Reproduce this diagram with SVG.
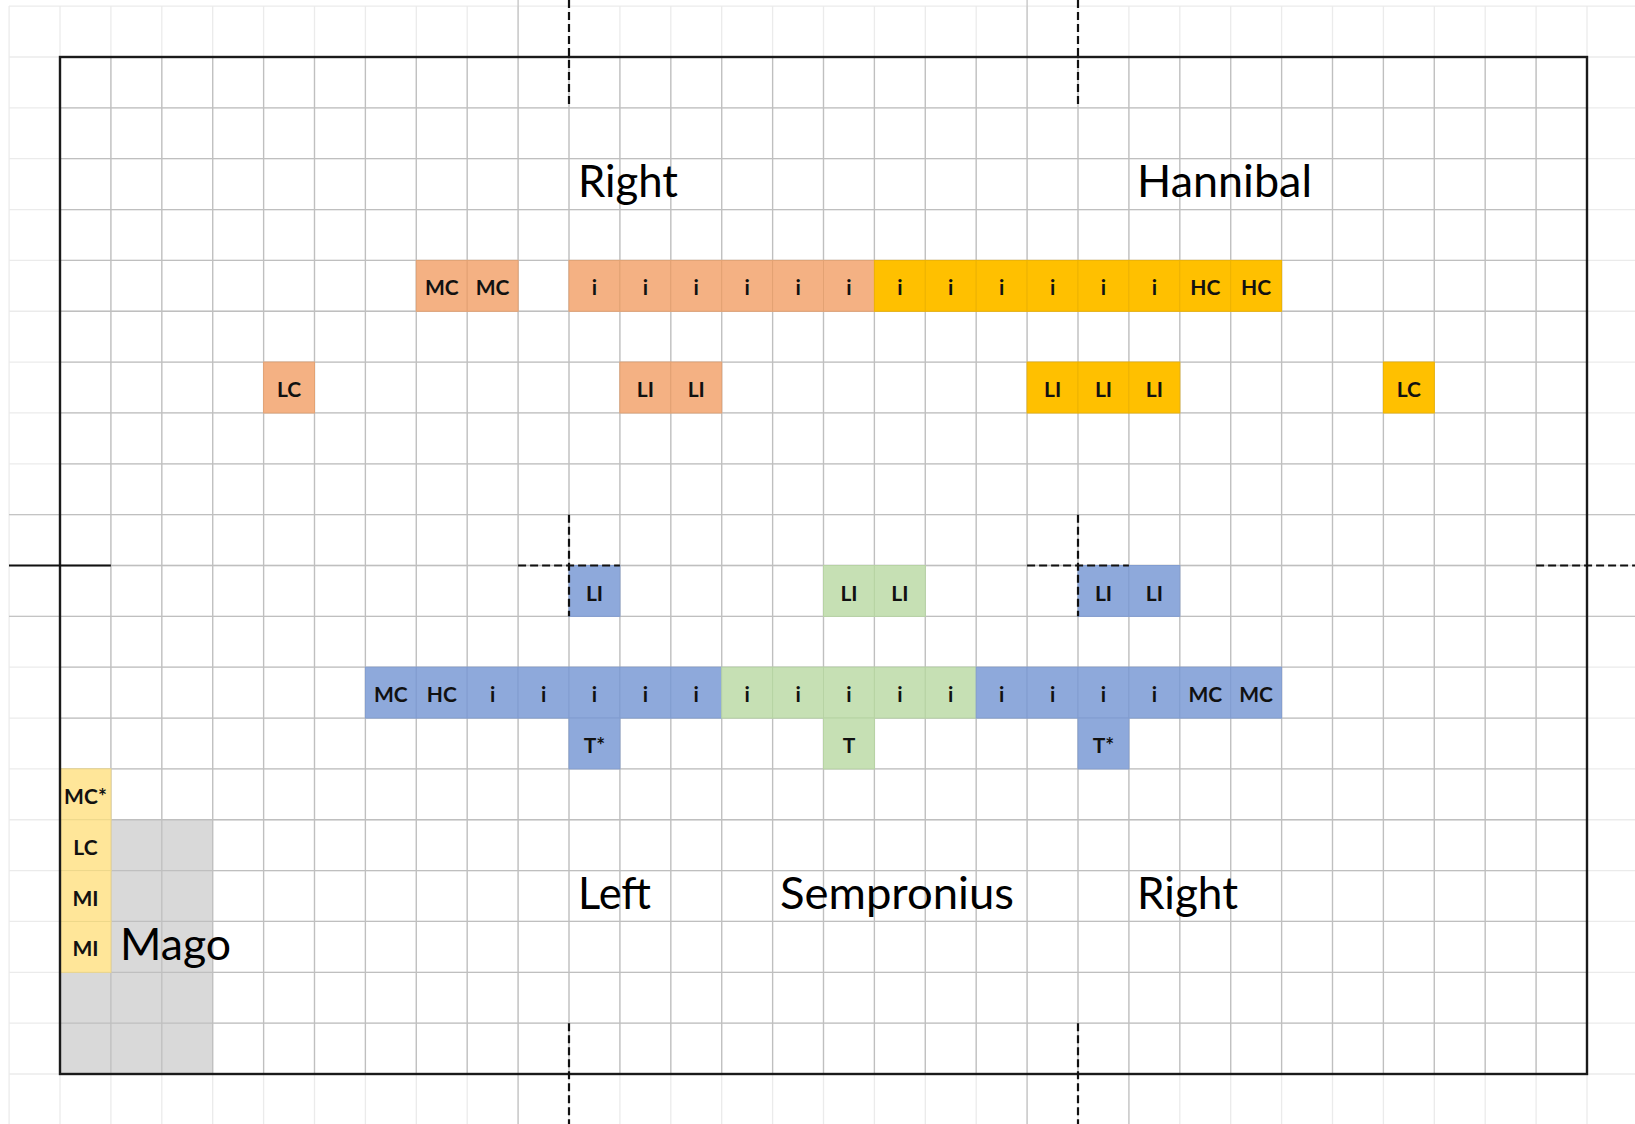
<svg xmlns="http://www.w3.org/2000/svg" width="1635" height="1124" viewBox="0 0 1635 1124">
<style>
.faint{stroke:#ebebeb;stroke-width:1.3;fill:none}
.mid{stroke:#bfbfbf;stroke-width:1.3;fill:none}
.midout{stroke:#c4c4c4;stroke-width:1.3;fill:none}
.frame{stroke:#1a1a1a;stroke-width:2.4;fill:none}
.dash{stroke:#111;stroke-width:2.2;stroke-dasharray:8 4;fill:none}
.solid{stroke:#111;stroke-width:2.2;fill:none}
.sal{fill:#F4B183;stroke:#e3a273;stroke-width:1}
.gold{fill:#FFC000;stroke:#eeb300;stroke-width:1}
.blue{fill:#8EA9DB;stroke:#829dd0;stroke-width:1}
.grn{fill:#C6E0B4;stroke:#b7d3a4;stroke-width:1}
.ly{fill:#FFE699;stroke:#eed88a;stroke-width:1}
.gray{fill:#D9D9D9}
.c{font-family:Lato,"Open Sans","Liberation Sans",sans-serif;font-weight:700;font-size:21px;fill:#111;text-anchor:middle}
.big{font-family:Lato,"Open Sans","Liberation Sans",sans-serif;font-weight:400;font-size:45px;fill:#000}
</style>
<rect width="1635" height="1124" fill="#fff"/>
<g id="grid">
<path class="faint" d="M9.1 6V1124M60 6V1124M110.9 6V1124M161.8 6V1124M212.7 6V1124M263.6 6V1124M314.5 6V1124M365.4 6V1124M416.3 6V1124M467.2 6V1124M518.1 6V1124M569 6V1124M619.9 6V1124M670.8 6V1124M721.7 6V1124M772.6 6V1124M823.5 6V1124M874.4 6V1124M925.3 6V1124M976.2 6V1124M1027.1 6V1124M1078 6V1124M1128.9 6V1124M1179.8 6V1124M1230.7 6V1124M1281.6 6V1124M1332.5 6V1124M1383.4 6V1124M1434.3 6V1124M1485.2 6V1124M1536.1 6V1124M1587 6V1124M9 6.15H1635M9 57H1635M9 107.85H1635M9 158.7H1635M9 209.55H1635M9 260.4H1635M9 311.25H1635M9 362.1H1635M9 412.95H1635M9 463.8H1635M9 514.65H1635M9 565.5H1635M9 616.35H1635M9 667.2H1635M9 718.05H1635M9 768.9H1635M9 819.75H1635M9 870.6H1635M9 921.45H1635M9 972.3H1635M9 1023.15H1635M9 1074H1635"/>
<path class="midout" d="M518.1 0V57M1027.1 0V57M518.1 1074V1124M1027.1 1074V1124M1128.9 1074V1124M9 514.65H60M9 616.35H60M1587 514.65H1635M1587 616.35H1635"/>
</g>
<g id="mago-area">
<rect class="gray" x="110.9" y="819.75" width="101.8" height="254.25"/>
<rect class="gray" x="60" y="972.3" width="50.9" height="101.7"/>
</g>
<g id="grid-inner">
<path class="mid" d="M110.9 57V1074M161.8 57V1074M212.7 57V1074M263.6 57V1074M314.5 57V1074M365.4 57V1074M416.3 57V1074M467.2 57V1074M518.1 57V1074M569 57V1074M619.9 57V1074M670.8 57V1074M721.7 57V1074M772.6 57V1074M823.5 57V1074M874.4 57V1074M925.3 57V1074M976.2 57V1074M1027.1 57V1074M1078 57V1074M1128.9 57V1074M1179.8 57V1074M1230.7 57V1074M1281.6 57V1074M1332.5 57V1074M1383.4 57V1074M1434.3 57V1074M1485.2 57V1074M1536.1 57V1074M60 107.85H1587M60 158.7H1587M60 209.55H1587M60 260.4H1587M60 311.25H1587M60 362.1H1587M60 412.95H1587M60 463.8H1587M60 514.65H1587M60 565.5H1587M60 616.35H1587M60 667.2H1587M60 718.05H1587M60 768.9H1587M60 819.75H1587M60 870.6H1587M60 921.45H1587M60 972.3H1587M60 1023.15H1587"/>
</g>
<g id="nodes">
<g id="r4c7"><rect class="sal" x="416.3" y="260.4" width="50.9" height="50.85"/><text class="c" x="441.75" y="295.4">MC</text></g>
<g id="r4c8"><rect class="sal" x="467.2" y="260.4" width="50.9" height="50.85"/><text class="c" x="492.65" y="295.4">MC</text></g>
<g id="r4c10"><rect class="sal" x="569" y="260.4" width="50.9" height="50.85"/><text class="c" x="594.45" y="295.4">i</text></g>
<g id="r4c11"><rect class="sal" x="619.9" y="260.4" width="50.9" height="50.85"/><text class="c" x="645.35" y="295.4">i</text></g>
<g id="r4c12"><rect class="sal" x="670.8" y="260.4" width="50.9" height="50.85"/><text class="c" x="696.25" y="295.4">i</text></g>
<g id="r4c13"><rect class="sal" x="721.7" y="260.4" width="50.9" height="50.85"/><text class="c" x="747.15" y="295.4">i</text></g>
<g id="r4c14"><rect class="sal" x="772.6" y="260.4" width="50.9" height="50.85"/><text class="c" x="798.05" y="295.4">i</text></g>
<g id="r4c15"><rect class="sal" x="823.5" y="260.4" width="50.9" height="50.85"/><text class="c" x="848.95" y="295.4">i</text></g>
<g id="r4c16"><rect class="gold" x="874.4" y="260.4" width="50.9" height="50.85"/><text class="c" x="899.85" y="295.4">i</text></g>
<g id="r4c17"><rect class="gold" x="925.3" y="260.4" width="50.9" height="50.85"/><text class="c" x="950.75" y="295.4">i</text></g>
<g id="r4c18"><rect class="gold" x="976.2" y="260.4" width="50.9" height="50.85"/><text class="c" x="1001.65" y="295.4">i</text></g>
<g id="r4c19"><rect class="gold" x="1027.1" y="260.4" width="50.9" height="50.85"/><text class="c" x="1052.55" y="295.4">i</text></g>
<g id="r4c20"><rect class="gold" x="1078" y="260.4" width="50.9" height="50.85"/><text class="c" x="1103.45" y="295.4">i</text></g>
<g id="r4c21"><rect class="gold" x="1128.9" y="260.4" width="50.9" height="50.85"/><text class="c" x="1154.35" y="295.4">i</text></g>
<g id="r4c22"><rect class="gold" x="1179.8" y="260.4" width="50.9" height="50.85"/><text class="c" x="1205.25" y="295.4">HC</text></g>
<g id="r4c23"><rect class="gold" x="1230.7" y="260.4" width="50.9" height="50.85"/><text class="c" x="1256.15" y="295.4">HC</text></g>
<g id="r6c4"><rect class="sal" x="263.6" y="362.1" width="50.9" height="50.85"/><text class="c" x="289.05" y="397.1">LC</text></g>
<g id="r6c11"><rect class="sal" x="619.9" y="362.1" width="50.9" height="50.85"/><text class="c" x="645.35" y="397.1">LI</text></g>
<g id="r6c12"><rect class="sal" x="670.8" y="362.1" width="50.9" height="50.85"/><text class="c" x="696.25" y="397.1">LI</text></g>
<g id="r6c19"><rect class="gold" x="1027.1" y="362.1" width="50.9" height="50.85"/><text class="c" x="1052.55" y="397.1">LI</text></g>
<g id="r6c20"><rect class="gold" x="1078" y="362.1" width="50.9" height="50.85"/><text class="c" x="1103.45" y="397.1">LI</text></g>
<g id="r6c21"><rect class="gold" x="1128.9" y="362.1" width="50.9" height="50.85"/><text class="c" x="1154.35" y="397.1">LI</text></g>
<g id="r6c26"><rect class="gold" x="1383.4" y="362.1" width="50.9" height="50.85"/><text class="c" x="1408.85" y="397.1">LC</text></g>
<g id="r10c10"><rect class="blue" x="569" y="565.5" width="50.9" height="50.85"/><text class="c" x="594.45" y="600.5">LI</text></g>
<g id="r10c15"><rect class="grn" x="823.5" y="565.5" width="50.9" height="50.85"/><text class="c" x="848.95" y="600.5">LI</text></g>
<g id="r10c16"><rect class="grn" x="874.4" y="565.5" width="50.9" height="50.85"/><text class="c" x="899.85" y="600.5">LI</text></g>
<g id="r10c20"><rect class="blue" x="1078" y="565.5" width="50.9" height="50.85"/><text class="c" x="1103.45" y="600.5">LI</text></g>
<g id="r10c21"><rect class="blue" x="1128.9" y="565.5" width="50.9" height="50.85"/><text class="c" x="1154.35" y="600.5">LI</text></g>
<g id="r12c6"><rect class="blue" x="365.4" y="667.2" width="50.9" height="50.85"/><text class="c" x="390.85" y="702.2">MC</text></g>
<g id="r12c7"><rect class="blue" x="416.3" y="667.2" width="50.9" height="50.85"/><text class="c" x="441.75" y="702.2">HC</text></g>
<g id="r12c8"><rect class="blue" x="467.2" y="667.2" width="50.9" height="50.85"/><text class="c" x="492.65" y="702.2">i</text></g>
<g id="r12c9"><rect class="blue" x="518.1" y="667.2" width="50.9" height="50.85"/><text class="c" x="543.55" y="702.2">i</text></g>
<g id="r12c10"><rect class="blue" x="569" y="667.2" width="50.9" height="50.85"/><text class="c" x="594.45" y="702.2">i</text></g>
<g id="r12c11"><rect class="blue" x="619.9" y="667.2" width="50.9" height="50.85"/><text class="c" x="645.35" y="702.2">i</text></g>
<g id="r12c12"><rect class="blue" x="670.8" y="667.2" width="50.9" height="50.85"/><text class="c" x="696.25" y="702.2">i</text></g>
<g id="r12c13"><rect class="grn" x="721.7" y="667.2" width="50.9" height="50.85"/><text class="c" x="747.15" y="702.2">i</text></g>
<g id="r12c14"><rect class="grn" x="772.6" y="667.2" width="50.9" height="50.85"/><text class="c" x="798.05" y="702.2">i</text></g>
<g id="r12c15"><rect class="grn" x="823.5" y="667.2" width="50.9" height="50.85"/><text class="c" x="848.95" y="702.2">i</text></g>
<g id="r12c16"><rect class="grn" x="874.4" y="667.2" width="50.9" height="50.85"/><text class="c" x="899.85" y="702.2">i</text></g>
<g id="r12c17"><rect class="grn" x="925.3" y="667.2" width="50.9" height="50.85"/><text class="c" x="950.75" y="702.2">i</text></g>
<g id="r12c18"><rect class="blue" x="976.2" y="667.2" width="50.9" height="50.85"/><text class="c" x="1001.65" y="702.2">i</text></g>
<g id="r12c19"><rect class="blue" x="1027.1" y="667.2" width="50.9" height="50.85"/><text class="c" x="1052.55" y="702.2">i</text></g>
<g id="r12c20"><rect class="blue" x="1078" y="667.2" width="50.9" height="50.85"/><text class="c" x="1103.45" y="702.2">i</text></g>
<g id="r12c21"><rect class="blue" x="1128.9" y="667.2" width="50.9" height="50.85"/><text class="c" x="1154.35" y="702.2">i</text></g>
<g id="r12c22"><rect class="blue" x="1179.8" y="667.2" width="50.9" height="50.85"/><text class="c" x="1205.25" y="702.2">MC</text></g>
<g id="r12c23"><rect class="blue" x="1230.7" y="667.2" width="50.9" height="50.85"/><text class="c" x="1256.15" y="702.2">MC</text></g>
<g id="r13c10"><rect class="blue" x="569" y="718.05" width="50.9" height="50.85"/><text class="c" x="594.45" y="753.05">T*</text></g>
<g id="r13c15"><rect class="grn" x="823.5" y="718.05" width="50.9" height="50.85"/><text class="c" x="848.95" y="753.05">T</text></g>
<g id="r13c20"><rect class="blue" x="1078" y="718.05" width="50.9" height="50.85"/><text class="c" x="1103.45" y="753.05">T*</text></g>
<g id="r14c0"><rect class="ly" x="60" y="768.9" width="50.9" height="50.85"/><text class="c" x="85.45" y="803.9">MC*</text></g>
<g id="r15c0"><rect class="ly" x="60" y="819.75" width="50.9" height="50.85"/><text class="c" x="85.45" y="854.75">LC</text></g>
<g id="r16c0"><rect class="ly" x="60" y="870.6" width="50.9" height="50.85"/><text class="c" x="85.45" y="905.6">MI</text></g>
<g id="r17c0"><rect class="ly" x="60" y="921.45" width="50.9" height="50.85"/><text class="c" x="85.45" y="956.45">MI</text></g>
</g>
<g id="frame"><rect class="frame" x="60" y="57" width="1527" height="1017"/></g>
<g id="connectors">
<path class="solid" d="M9 565.5H110.9"/>
<path class="dash" d="M569 0V107.85M1078 0V107.85M569 1023.15V1124M1078 1023.15V1124"/>
<path class="dash" d="M569 514.65V616.35M518.1 565.5H619.9M1078 514.65V616.35M1027.1 565.5H1128.9M1536.1 565.5H1635"/>
</g>
<g id="labels">
<text class="big" x="578" y="197" textLength="100" lengthAdjust="spacingAndGlyphs">Right</text>
<text class="big" x="1137" y="197" textLength="175" lengthAdjust="spacingAndGlyphs">Hannibal</text>
<text class="big" x="578" y="909" textLength="73" lengthAdjust="spacingAndGlyphs">Left</text>
<text class="big" x="780" y="909" textLength="234" lengthAdjust="spacingAndGlyphs">Sempronius</text>
<text class="big" x="1137" y="909" textLength="101" lengthAdjust="spacingAndGlyphs">Right</text>
<text class="big" x="120" y="960" textLength="111" lengthAdjust="spacingAndGlyphs">Mago</text>
</g>
</svg>
